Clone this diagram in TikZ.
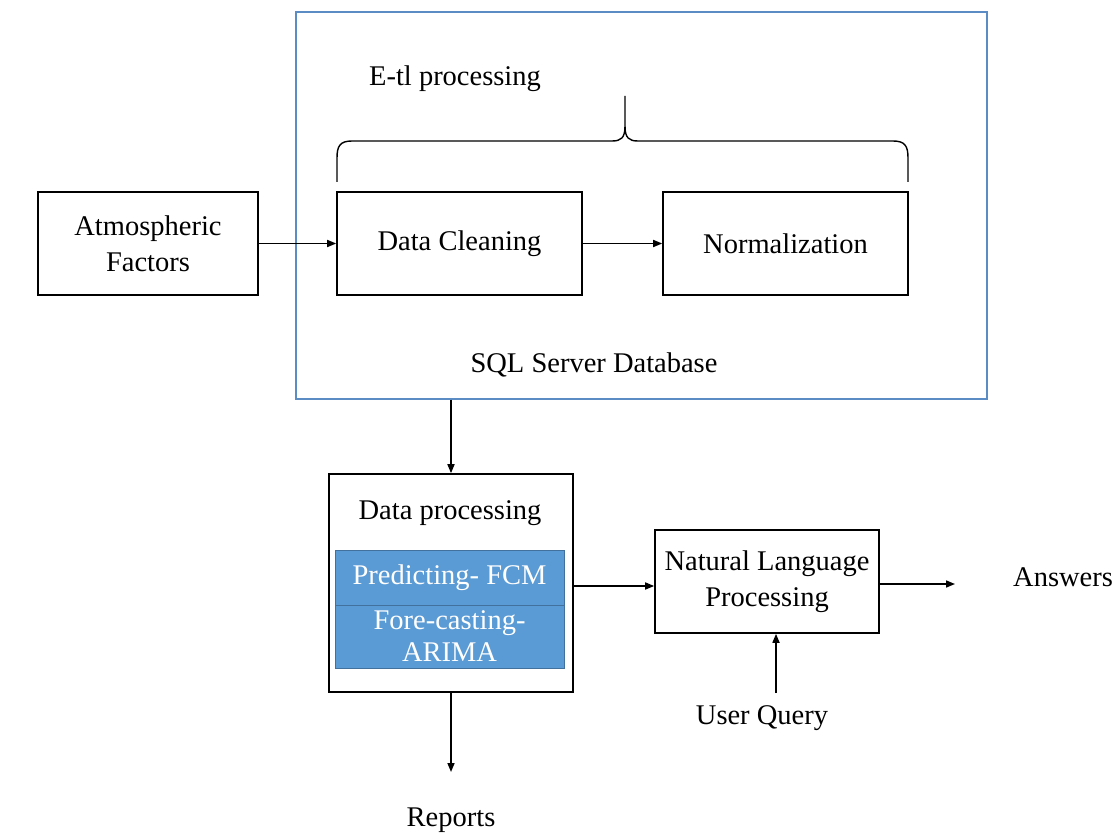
\documentclass[tikz,border=0pt]{standalone}
\usepackage{fontspec}
\setmainfont{Liberation Serif}
\usetikzlibrary{arrows.meta}
\definecolor{sqlblue}{HTML}{5B8DC4}
\definecolor{fillblue}{HTML}{5B9BD5}
\definecolor{edgeblue}{HTML}{41719C}
\tikzset{
  box/.style={draw=black, line width=1.6pt, minimum width=#1, inner sep=0pt},
  lbl/.style={font=\fontsize{28.5}{36}\selectfont, align=center, inner sep=0pt},
  arr/.style={draw=black, line width=1.6pt, -{Triangle[length=9pt,width=7pt]}},
  bluebox/.style={draw=edgeblue, line width=0.8pt, fill=fillblue, text=white, minimum width=229pt, inner sep=0pt, font=\fontsize{28.5}{32}\selectfont, align=center}
}
\begin{document}
\begin{tikzpicture}[x=1pt,y=-1pt]
\useasboundingbox (0,0) rectangle (1116,834);
% SQL server box
\node[draw=sqlblue, line width=1.2pt, minimum width=691pt, minimum height=387pt, inner sep=0pt] (sql) at (641.5,205.5) {};
\node[lbl] (etl) at (455,79) {E-tl processing};
\node[lbl] (sqllbl) at (594,365) {SQL Server Database};
% boxes
\node[box=220pt, minimum height=103pt, lbl] (atm) at (148,243.5) {Atmospheric\\Factors};
\node[box=245pt, minimum height=103pt, lbl] (dc) at (459.5,243.5) {Data Cleaning};
\node[box=245pt, minimum height=103pt, lbl] (norm) at (785.5,243.5) {Normalization};
% brace
\draw[line width=1.4pt, line join=round] (337,182) -- (337,158) .. controls (337,146) and (340,141) .. (352,141) -- (612,141) .. controls (621,141) and (625,138) .. (625,126) -- (625,96)
  (625,126) .. controls (625,138) and (629,141) .. (638,141) -- (893,141) .. controls (905,141) and (908,146) .. (908,158) -- (908,182);
% arrows top
\draw[arr] (atm.east) -- (dc.west);
\draw[arr] (dc.east) -- (norm.west);
% data processing
\node[box=244pt, minimum height=218pt] (dp) at (451,583) {};
\node[lbl] (dptitle) at (450,513) {Data processing};
\node[bluebox, minimum height=55pt] (pred) at (449.5,577.5) {Predicting- FCM};
\node[bluebox, minimum height=63pt] (fore) at (449.5,636.5) {Fore-casting-\\ARIMA};
\draw[arr] (sql.south -| dp.north) -- (dp.north);
% NLP
\node[box=224pt, minimum height=103pt, lbl] (nlp) at (767,581.5) {Natural Language\\Processing};
\draw[arr] (dp.east |- 0,586) -- (nlp.west |- 0,586);
\node[lbl, anchor=west] (ans) at (1013,577) {Answers};
\coordinate (ansin) at (955,584);
\draw[arr] (nlp.east |- ansin) -- (ansin);
\node[lbl] (uq) at (762,718) {User Query};
\coordinate (uqtop) at (776,693);
\draw[arr] (uqtop) -- (uqtop |- nlp.south);
\node[lbl] (rep) at (451,820) {Reports};
\coordinate (reptop) at (451,772);
\draw[arr] (dp.south) -- (reptop);
\end{tikzpicture}
\end{document}
